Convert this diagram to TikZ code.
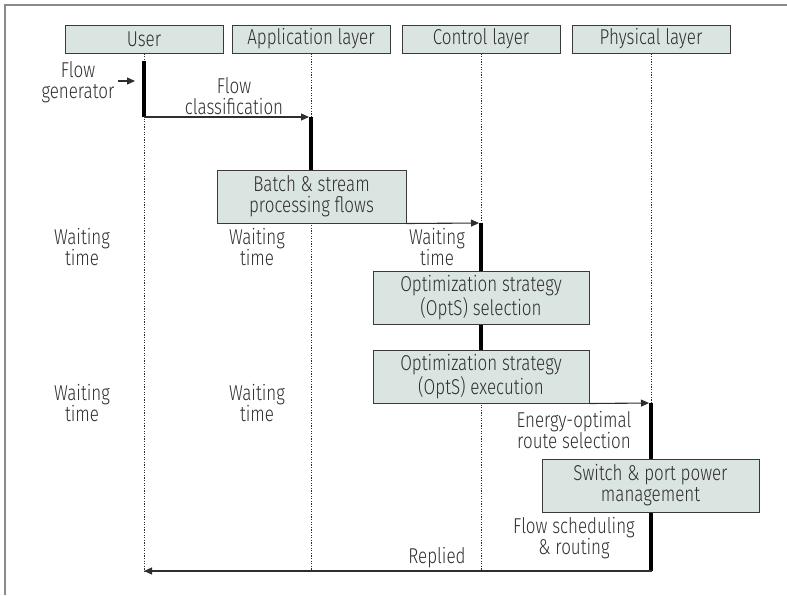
\documentclass[tikz,border=0pt]{standalone}
\usepackage{fontspec}
\setmainfont{Fira Sans Light}[FakeStretch=0.79]
\usetikzlibrary{arrows.meta}

\definecolor{boxfill}{HTML}{DAE4E1}
\definecolor{boxline}{HTML}{3A3A3A}
\definecolor{txt}{HTML}{2E2E2E}
\definecolor{framegray}{HTML}{8A8A8A}

\tikzset{
  basefont/.style={font=\fontsize{21.5}{21}\selectfont, text=txt},
  header/.style={basefont, draw=boxline, fill=boxfill, line width=1pt,
    minimum width=158pt, minimum height=28pt, inner sep=0pt},
  procbox/.style={basefont, draw=boxline, fill=boxfill, line width=1pt,
    minimum height=53pt, inner sep=0pt, align=center},
  lbl/.style={basefont, align=center, inner sep=0pt},
  lifeline/.style={draw=txt, line width=1pt, dash pattern=on 1.2pt off 1.4pt},
  actbar/.style={draw=black, line width=4.5pt},
  msg/.style={draw=txt, line width=1.1pt, -{Triangle[length=8pt,width=7pt]}},
}

\begin{document}
\begin{tikzpicture}[x=1pt,y=-1pt]
\useasboundingbox (0,0) rectangle (787,595);

% outer frame (top and left rules)
\draw[framegray, line width=1.5pt] (787,5) -- (5,5) -- (5,595);

% lifeline headers
\node[header] (user) at (144,39) {User};
\node[header] (app)  at (311,39) {Application layer};
\node[header] (ctrl) at (481,39) {Control layer};
\node[header] (phys) at (651,39) {Physical layer};

% anchor points along the lifelines
\coordinate (uEnd) at (144,571);
\coordinate (aEnd) at (311,571);
\coordinate (cEnd) at (481,571);
\coordinate (pEnd) at (651,403);
\coordinate (u1) at (144,61);
\coordinate (u2) at (144,117);
\coordinate (a1) at (311,117);
\coordinate (c1) at (481,223);
\coordinate (p1) at (651,403);
\coordinate (p2) at (651,571);
\coordinate (fg) at (118,81);

% dotted lifelines
\draw[lifeline] (user.south) -- (uEnd);
\draw[lifeline] (app.south) -- (aEnd);
\draw[lifeline] (ctrl.south) -- (cEnd);
\draw[lifeline] (phys.south) -- (pEnd);

% processing boxes
\node[procbox, minimum width=189pt] (batch) at (311.5,196.5)
  {Batch \& stream\\processing flows};
\node[procbox, minimum width=216pt] (sel) at (481,297.5)
  {Optimization strategy\\(OptS) selection};
\node[procbox, minimum width=216pt] (exe) at (481,376.5)
  {Optimization strategy\\(OptS) execution};
\node[procbox, minimum width=217pt] (sw) at (650.5,485.5)
  {Switch \& port power\\management};

% activation bars
\draw[actbar] (u1) -- (u2);
\draw[actbar] (a1) -- (batch.north -| a1);
\draw[actbar] (c1) -- (sel.north -| c1);
\draw[actbar] (sel.south -| c1) -- (exe.north -| c1);
\draw[actbar] (p1) -- (sw.north -| p1);
\draw[actbar] (sw.south -| p1) -- (p2);

% messages
\draw[msg] (fg) -- ++(17,0);
\draw[msg, shorten >=2pt] (u2) -- (a1);
\draw[msg, shorten >=2pt] (batch.south east) -- (c1);
\draw[msg, shorten >=2pt] (exe.south east) -- (p1);
\draw[msg, shorten <=-1pt] (p2) -- (uEnd);

% labels
\node[lbl] (lfg) at (78,82) {Flow\\generator};
\node[lbl] (lfc) at (234,96) {Flow\\classification};
\node[lbl] (w1) at (82,247) {Waiting\\time};
\node[lbl] (w2) at (257,247) {Waiting\\time};
\node[lbl] (w3) at (437,247) {Waiting\\time};
\node[lbl] (w4) at (82,403) {Waiting\\time};
\node[lbl] (w5) at (257,403) {Waiting\\time};
\node[lbl] (leo) at (574,430) {Energy-optimal\\route selection};
\node[lbl] (lfs) at (574,538) {Flow scheduling\\\& routing};
\node[lbl] (lrep) at (437,558) {Replied};
\end{tikzpicture}
\end{document}
